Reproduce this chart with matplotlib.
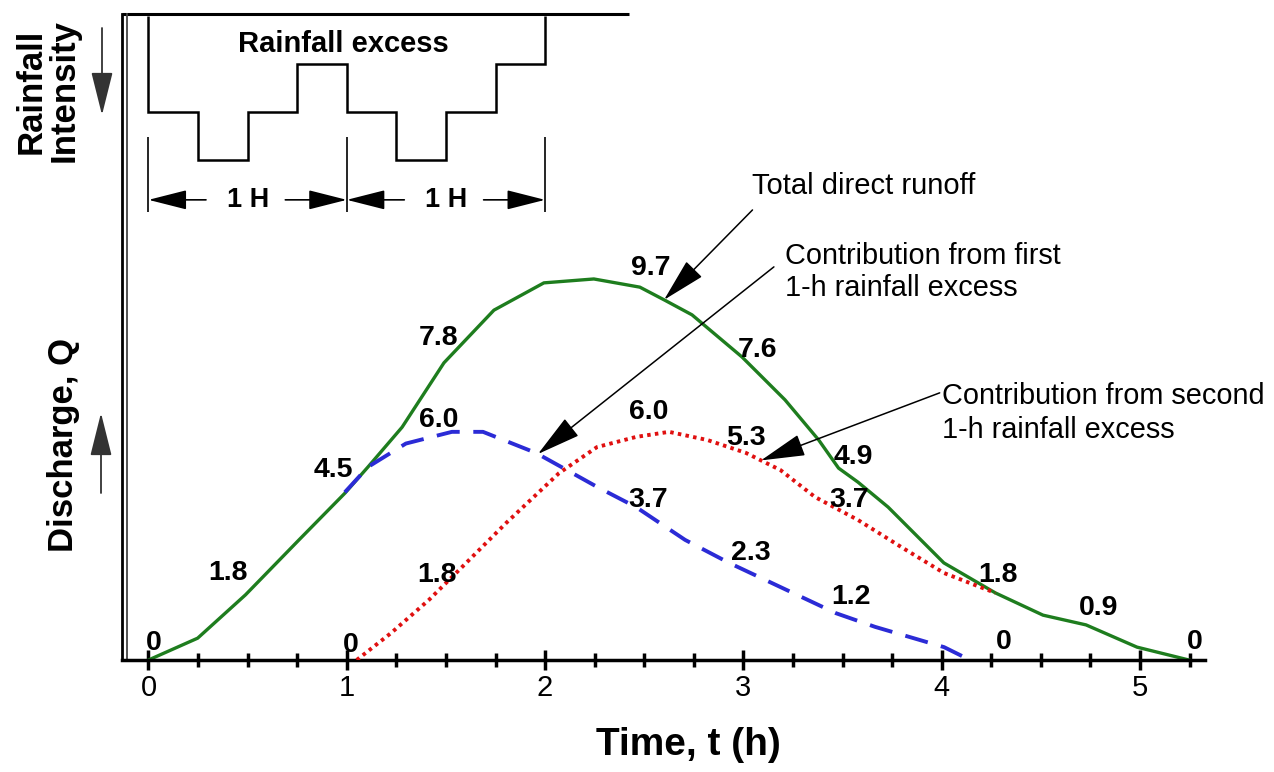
import matplotlib
matplotlib.use("Agg")
import matplotlib.pyplot as plt
import numpy as np

plt.rcParams['font.family'] = ['Liberation Sans', 'DejaVu Sans']

# ---------------- data ----------------
total_t = [0, 0.248, 0.489, 0.759, 0.991, 1.107, 1.279, 1.49, 1.742, 1.994, 2.246, 2.478,
           2.602, 2.741, 2.993, 3.21, 3.38, 3.48, 3.578, 3.73, 4.011, 4.271, 4.511, 4.728,
           4.985, 5.247]
total_q = [0, 0.56, 1.67, 3.08, 4.28, 4.95, 5.97, 7.62, 8.97, 9.67, 9.77, 9.56,
           9.23, 8.85, 7.77, 6.67, 5.64, 4.92, 4.56, 3.92, 2.49, 1.72, 1.15, 0.90,
           0.33, 0.0]

first_t = [0.99, 1.107, 1.298, 1.53, 1.687, 1.954, 2.11, 2.262, 2.459, 2.706, 2.928,
           3.187, 3.467, 3.664, 4.012, 4.143]
first_q = [4.3, 4.95, 5.55, 5.85, 5.85, 5.31, 4.87, 4.44, 3.92, 3.08, 2.49,
           1.87, 1.2, 0.85, 0.33, 0.0]

second_t = [1.05, 1.223, 1.414, 1.551, 1.803, 2.07, 2.262, 2.459, 2.625, 2.819, 3.013,
            3.187, 3.361, 3.578, 3.795, 4.012, 4.271]
second_q = [0, 0.69, 1.54, 2.23, 3.51, 4.79, 5.46, 5.72, 5.85, 5.64, 5.31,
            4.87, 4.18, 3.59, 2.90, 2.23, 1.72]

rain_edges = [0, 0.25, 0.5, 0.75, 1.0, 1.25, 1.5, 1.75, 2.0]
rain_intensity = [2, 3, 2, 1, 2, 3, 2, 1]

xticks = [0, 1, 2, 3, 4, 5]
xtick_labels = ['0', '1', '2', '3', '4', '5']
minor_ticks = [0.25 * i for i in range(22)]

value_labels = ['0', '1.8', '4.5', '7.8', '6.0', '9.7', '6.0', '3.7', '1.8', '0',
                '7.6', '5.3', '4.9', '3.7', '2.3', '1.2', '1.8', '0.9', '0', '0']

# ---------------- layout ----------------
label_pos = [(0.026, 0.44), (0.401, 2.23), (0.930, 4.87), (1.465, 8.26), (1.465, 6.15),
             (2.534, 10.05), (2.524, 6.36), (2.519, 4.10), (1.455, 2.18), (1.021, 0.38),
             (3.069, 7.95), (3.013, 5.69), (3.556, 5.21), (3.533, 4.10), (3.036, 2.74),
             (3.545, 1.62), (4.282, 2.18), (4.792, 1.33), (4.314, 0.46), (5.277, 0.46)]

W, H = 1274, 772
fig = plt.figure(figsize=(W / 100, H / 100), dpi=100)
rect = [122 / W, (H - 660) / H, 1083 / W, 646 / H]
ax = fig.add_axes(rect)
ax.set_xlim(-0.1336, 5.328)
ax.set_ylim(0, 16.564)

for s in ['top', 'right']:
    ax.spines[s].set_visible(False)
ax.spines['left'].set_linewidth(2.0)
ax.spines['bottom'].set_linewidth(2.5)
ax.set_yticks([])
ax.set_xticks(xticks)
ax.set_xticklabels(xtick_labels)
ax.set_xticks(minor_ticks, minor=True)
ax.tick_params(axis='x', which='major', direction='inout', length=14, width=2.5,
               labelsize=21, pad=3)
ax.tick_params(axis='x', which='minor', direction='inout', length=10, width=2.5)

# frame extras: top line and doubled left line
ax.plot([0, 507 / 1083], [1, 1], transform=ax.transAxes, color='black', lw=2.2,
        clip_on=False, solid_capstyle='butt')
ax.plot([5 / 1083, 5 / 1083], [0, 1], transform=ax.transAxes, color='#444444', lw=1.3,
        clip_on=False)

# curves
ax.plot(total_t, total_q, color='#1e7d1e', lw=2.4, zorder=2)
ax.plot(first_t, first_q, color='#2b2bd6', lw=2.8, dashes=(6, 3.5), zorder=3)
ax.plot(second_t, second_q, color='#e01010', lw=2.8, dashes=(0.9, 1.1), zorder=3)

for s, (x, y) in zip(value_labels, label_pos):
    ax.text(x, y, s, ha='center', va='center', fontsize=20.5, fontweight='bold', zorder=4)

# annotations with arrows
arrow_kw = dict(arrowstyle='-|>,head_length=1.4,head_width=0.35', color='black',
                lw=1.1, shrinkA=0, shrinkB=0, mutation_scale=20)
tip1_t = 2.6
ax.annotate('', xy=(tip1_t, np.interp(tip1_t, total_t, total_q)), xytext=(3.046, 11.54),
            arrowprops=arrow_kw)
ax.text(3.046, 12.15, 'Total direct runoff', ha='left', va='center', fontsize=21)

tip2_t = 1.964
ax.annotate('', xy=(tip2_t, np.interp(tip2_t, first_t, first_q)), xytext=(3.154, 10.08),
            arrowprops=arrow_kw)
ax.text(3.21, 9.95, 'Contribution from first\n1-h rainfall excess', ha='left',
        va='center', fontsize=20.8, linespacing=1.15)

tip3_t = 3.089
ax.annotate('', xy=(tip3_t, np.interp(tip3_t, second_t, second_q)), xytext=(3.99, 6.85),
            arrowprops=arrow_kw)
ax.text(4.0, 6.33, 'Contribution from second\n1-h rainfall excess', ha='left',
        va='center', fontsize=20.8, linespacing=1.25)

# ---------------- rainfall hyetograph ----------------
rax = fig.add_axes(rect, sharex=ax)
rax.set_ylim(13.417, -0.042)
rax.axis('off')
rax.stairs(rain_intensity, rain_edges, baseline=0, color='black', lw=1.8)
rax.text(0.985, 0.58, 'Rainfall excess', ha='center', va='center', fontsize=21,
         fontweight='bold')

hours = [rain_edges[0], rain_edges[4], rain_edges[8]]
rax.vlines(hours, 2.52, 4.08, color='black', lw=1.2)
dim_kw = dict(arrowstyle='-|>,head_length=1.5,head_width=0.38', color='black',
              lw=1.2, shrinkA=0, shrinkB=0, mutation_scale=16)
ydim = 3.83
for h0, h1 in zip(hours[:-1], hours[1:]):
    c = (h0 + h1) / 2
    rax.text(c, ydim, '1 H', ha='center', va='center', fontsize=19.5, fontweight='bold')
    rax.annotate('', xy=(h0, ydim), xytext=(c - 0.21, ydim), arrowprops=dim_kw)
    rax.annotate('', xy=(h1, ydim), xytext=(c + 0.19, ydim), arrowprops=dim_kw)

# ---------------- axis titles ----------------
fig.text(688 / W, 1 - 745 / H, 'Time, t (h)', ha='center', va='center', fontsize=28,
         fontweight='bold')
fig.text(63 / W, 1 - 445 / H, 'Discharge, Q', ha='center', va='center', fontsize=25,
         fontweight='bold', rotation=90)
fig.text(48 / W, 1 - 91 / H, 'Rainfall\nIntensity', ha='center', va='center',
         fontsize=25, fontweight='bold', rotation=90, linespacing=1.0)

side_kw = dict(arrowstyle='-|>,head_length=1.8,head_width=0.45', color='#333333',
               lw=1.3, shrinkA=0, shrinkB=0, mutation_scale=15)
fig.add_artist(plt.Annotation('', xy=(101, H - 413), xytext=(101, H - 493),
                              xycoords='figure pixels', textcoords='figure pixels',
                              arrowprops=side_kw))
fig.add_artist(plt.Annotation('', xy=(102, H - 115), xytext=(102, H - 28),
                              xycoords='figure pixels', textcoords='figure pixels',
                              arrowprops=side_kw))

fig.savefig('out.png', dpi=100)
